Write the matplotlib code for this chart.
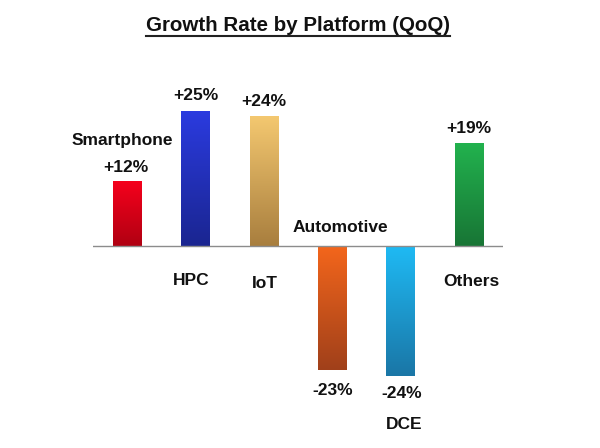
import matplotlib
matplotlib.use("Agg")
import matplotlib.pyplot as plt
import numpy as np
from matplotlib.colors import LinearSegmentedColormap
from matplotlib.lines import Line2D

plt.rcParams['font.family'] = ['Liberation Sans', 'DejaVu Sans']

# data
platforms = ['Smartphone', 'HPC', 'IoT', 'Automotive', 'DCE', 'Others']
growth = [12, 25, 24, -23, -24, 19]
value_labels = ['+12%', '+25%', '+24%', '-23%', '-24%', '+19%']
# gradient colours (top, bottom)
top_colors = ['#f5001c', '#2b3be0', '#f4c870', '#f4661c', '#1fbaf4', '#22b24e']
bottom_colors = ['#b00012', '#1a2590', '#a87e3e', '#a0401a', '#1a76a6', '#187535']

fig = plt.figure(figsize=(6, 4.48), dpi=100)
ax = fig.add_axes([93 / 600, 0, 410 / 600, 1])
ax.set_xlim(-0.5, 5.5)
ax.set_ylim(-37.4, 45.56)
ax.axis('off')

x = np.arange(len(platforms))
bars = ax.bar(x, growth, width=0.41, color='none', edgecolor='none')

grad = np.linspace(0, 1, 256).reshape(-1, 1)
for b, c1, c2 in zip(bars, top_colors, bottom_colors):
    cmap = LinearSegmentedColormap.from_list('g', [c1, c2])
    x0, y0 = b.get_x(), b.get_y()
    w, h = b.get_width(), b.get_height()
    ylo, yhi = min(y0, y0 + h), max(y0, y0 + h)
    im = ax.imshow(grad, cmap=cmap, aspect='auto', origin='upper',
                   extent=[x0, x0 + w, ylo, yhi], zorder=2)
    im.set_clip_path(b)

ax.axhline(0, color='#8c8c8c', lw=1.0, zorder=3)

kw = dict(fontsize=12.5, fontweight='bold', color='#111111',
          ha='center', va='center', textcoords='offset pixels')

# value labels at bar ends (pixel offsets of the label centre)
value_offsets = [(-1, 14), (0, 16), (0, 15), (1, -20), (1, -18), (0, 15)]
for i, (v, lab) in enumerate(zip(growth, value_labels)):
    ax.annotate(lab, (x[i], v), xytext=value_offsets[i], **kw)

# category labels: anchor value and pixel offset
name_anchor = [growth[0], 0, 0, 0, growth[4], 0]
name_offsets = [(-5, 41), (-4, -34), (1, -37), (8, 19), (4, -49), (3, -35)]
for i, name in enumerate(platforms):
    ax.annotate(name, (x[i], name_anchor[i]), xytext=name_offsets[i], **kw)

title = fig.text(0.496, 0.944, 'Growth Rate by Platform (QoQ)', fontsize=14.8,
                 fontweight='bold', ha='center', va='center', color='#111111')
fig.canvas.draw()
bb = title.get_window_extent().transformed(fig.transFigure.inverted())
fig.add_artist(Line2D([bb.x0, bb.x1], [bb.y0 - 0.003, bb.y0 - 0.003],
                      transform=fig.transFigure, color='#222222', lw=1.5))

fig.savefig('out.png', dpi=100)
